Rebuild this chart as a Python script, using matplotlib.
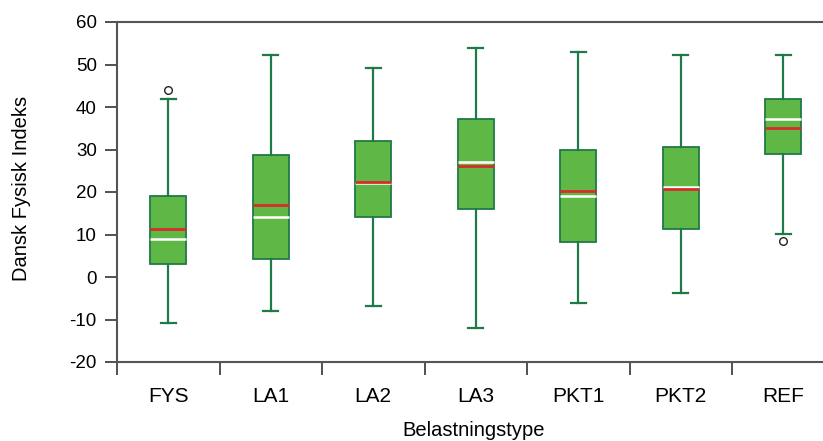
import matplotlib
matplotlib.use("Agg")
import matplotlib.pyplot as plt

plt.rcParams['font.family'] = ['Liberation Sans', 'DejaVu Sans']

categories = ["FYS", "LA1", "LA2", "LA3", "PKT1", "PKT2", "REF"]
q1 = [3.0, 4.2, 14.2, 16.1, 8.2, 11.2, 28.9]
q3 = [19.1, 28.6, 31.9, 37.1, 30.0, 30.6, 42.0]
medians = [9.0, 14.1, 22.1, 27.1, 19.1, 21.1, 37.2]
means = [11.4, 16.9, 22.4, 26.2, 20.2, 20.8, 35.0]
whisker_low = [-10.9, -7.9, -6.8, -12.0, -6.0, -3.8, 10.1]
whisker_high = [42.0, 52.2, 49.2, 54.0, 52.9, 52.2, 52.2]
outliers = [[44.1], [], [], [], [], [], [8.5]]

y_ticks = [-20, -10, 0, 10, 20, 30, 40, 50, 60]

stats = []
for i, name in enumerate(categories):
    stats.append(dict(label=name, q1=q1[i], q3=q3[i], med=medians[i], mean=means[i],
                      whislo=whisker_low[i], whishi=whisker_high[i], fliers=outliers[i]))

W, H = 823, 441
fig = plt.figure(figsize=(W / 100, H / 100), dpi=100)
# plot area runs past the right edge of the canvas
ax = fig.add_axes([117 / W, 1 - 362 / H, (834.5 - 117) / W, (362 - 22) / H])

edge = "#1f7a47"
ax.bxp(stats, positions=range(len(categories)), widths=0.35, capwidths=0.15,
       patch_artist=True, showmeans=True, meanline=True, showfliers=True,
       boxprops=dict(facecolor="#5fb845", edgecolor=edge, linewidth=1.3),
       whiskerprops=dict(color=edge, linewidth=1.6),
       capprops=dict(color=edge, linewidth=1.6),
       medianprops=dict(color="white", linewidth=1.8),
       meanprops=dict(color="#d92b2b", linewidth=2.0, linestyle="-"),
       flierprops=dict(marker="o", markerfacecolor="white", markeredgecolor="#222222",
                       markersize=5.5, markeredgewidth=1.0))

ax.set_xlim(-0.5, 6.5)
ax.set_ylim(-20, 60)
ax.set_yticks(y_ticks)
ax.set_yticklabels([str(v) for v in y_ticks], fontsize=13.5)

ax.set_xticks([i - 0.5 for i in range(len(categories))])
ax.set_xticklabels([])
ax.set_xticks(range(len(categories)), minor=True)
ax.set_xticklabels(categories, minor=True, fontsize=15)
ax.tick_params(axis="x", which="major", length=9, width=1.2, color="#333333")
ax.tick_params(axis="x", which="minor", length=0, pad=18)
ax.tick_params(axis="y", length=9, width=1.2, color="#333333", pad=5.5)

for side in ("left", "bottom", "top"):
    ax.spines[side].set_linewidth(1.5)
    ax.spines[side].set_color("#555555")
ax.spines["right"].set_visible(False)

ax.set_xlabel("Belastningstype", fontsize=14.5)
ax.xaxis.set_label_coords((474 - 117) / (834.5 - 117), (362 - 421) / 340)
ax.set_ylabel("Dansk Fysisk Indeks", fontsize=14.5)
ax.yaxis.set_label_coords((31 - 117) / (834.5 - 117), (362 - 188) / 340)

fig.savefig("out.png", dpi=100)
